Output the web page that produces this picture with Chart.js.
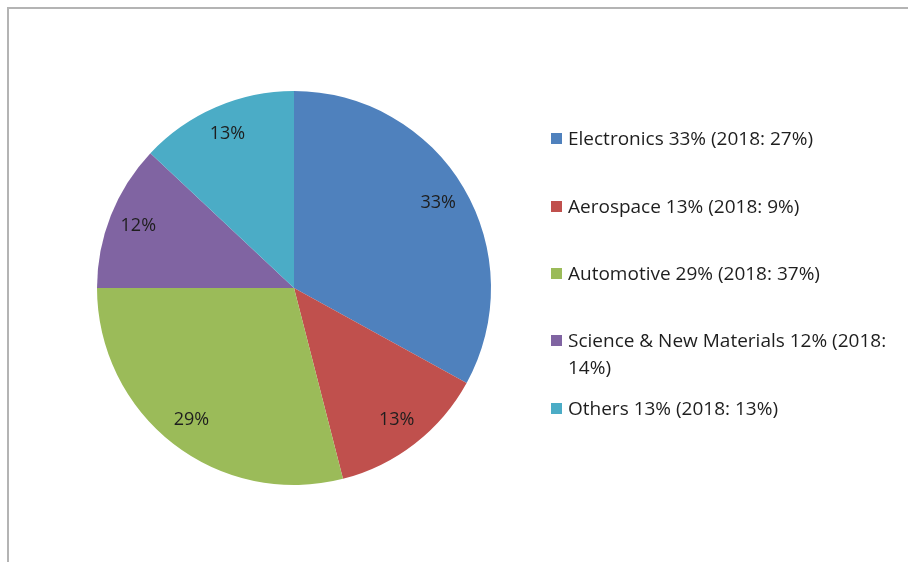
<!DOCTYPE html>
<html>
<head>
<meta charset="utf-8">
<script src="https://cdn.jsdelivr.net/npm/chart.js@4"></script>
<style>
  body { margin: 0; background: #fff; }
  #frame {
    position: absolute; left: 7px; top: 7px; width: 910px; height: 560px;
    border-top: 2px solid #b4b4b4; border-left: 2px solid #b4b4b4;
  }
  #wrap { position: absolute; left: 0; top: 0; width: 588px; height: 562px; }
  #legend {
    position: absolute; left: 551px; top: 0; width: 352px;
    font-family: "Open Sans", sans-serif; font-size: 19px; color: #1e1e1e;
  }
  .item { position: absolute; left: 0; display: flex; align-items: flex-start; line-height: 27px; }
  .box { width: 11px; height: 11px; margin-top: 8px; margin-right: 6px; flex: none; }
</style>
</head>
<body>
<div id="frame"></div>
<div id="wrap"><canvas id="pieChart"></canvas></div>
<div id="legend"></div>
<script>
// Data
const labels = ["Electronics", "Aerospace", "Automotive", "Science & New Materials", "Others"];
const shares = [33, 13, 29, 12, 13];
const shares2018 = [27, 9, 37, 14, 13];
const colors = ["#4F81BD", "#C0504D", "#9BBB59", "#8064A2", "#4BACC6"];
const legendTops = [125, 193, 260, 327, 395]; // top of each legend row

// legend built from the arrays
const legend = document.getElementById("legend");
labels.forEach((name, i) => {
  const row = document.createElement("div");
  row.className = "item";
  row.style.top = legendTops[i] + "px";
  const box = document.createElement("span");
  box.className = "box";
  box.style.background = colors[i];
  const txt = document.createElement("span");
  txt.textContent = name + " " + shares[i] + "% (2018: " + shares2018[i] + "%)";
  row.appendChild(box);
  row.appendChild(txt);
  legend.appendChild(row);
});

// percentage labels inside the slices
const sliceLabels = {
  id: "sliceLabels",
  afterDatasetsDraw(chart) {
    const ctx = chart.ctx;
    const meta = chart.getDatasetMeta(0);
    ctx.save();
    ctx.font = "18px 'Open Sans', sans-serif";
    ctx.fillStyle = "#1e1e1e";
    ctx.textAlign = "center";
    ctx.textBaseline = "middle";
    meta.data.forEach((arc, i) => {
      const mid = (arc.startAngle + arc.endAngle) / 2;
      const r = arc.outerRadius * 0.85;
      ctx.fillText(shares[i] + "%", arc.x + Math.cos(mid) * r, arc.y + Math.sin(mid) * r);
    });
    ctx.restore();
  }
};

const config = {
  type: "pie",
  data: {
    labels: labels,
    datasets: [{
      data: shares,
      backgroundColor: colors,
      borderWidth: 0,
    }],
  },
  options: {
    responsive: true,
    maintainAspectRatio: false,
    animation: false,
    layout: { padding: { top: 91, bottom: 77, left: 97, right: 97 } },
    plugins: {
      legend: { display: false },
      tooltip: { enabled: false },
    },
  },
  plugins: [sliceLabels],
};

const pieChart = new Chart(document.getElementById("pieChart"), config);
</script>
</body>
</html>
